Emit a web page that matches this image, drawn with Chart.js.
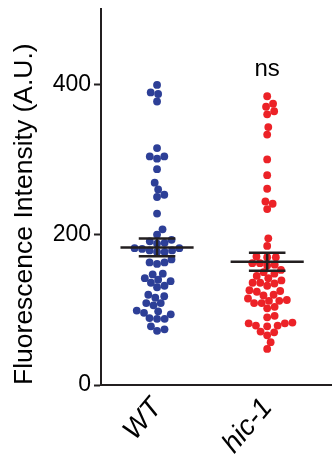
<!DOCTYPE html>
<html>
<head>
<meta charset="utf-8">
<script src="https://cdn.jsdelivr.net/npm/chart.js@4.4.1/dist/chart.umd.min.js"></script>
<style>
  html, body { margin: 0; padding: 0; background: #ffffff; }
  #wrap { width: 335px; height: 462px; }
</style>
</head>
<body>
<div id="wrap"><canvas id="c" width="335" height="462"></canvas></div>
<script>
// ---- data ----
const categories = ['WT', 'hic-1'];
const wtValues = [399, 389, 387, 377, 315, 304, 301, 304, 287, 269, 260, 253, 250, 228, 207,
  200, 193, 191, 189, 188, 182, 179, 177, 177, 179, 181, 182, 163, 161, 163, 167, 148, 147,
  140, 136, 142, 138, 130, 132, 120, 118, 116, 109, 106, 109, 98, 94, 88, 88, 89, 96, 99,
  78, 72, 74];
const hicValues = [384, 374, 370, 360, 364, 343, 333, 300, 279, 261, 244, 241, 234, 195, 185,
  170, 170, 171, 162, 159, 160, 162, 153, 148, 145, 150, 142, 139, 136, 132, 135, 136, 125,
  120, 119, 124, 126, 115, 112, 109, 102, 104, 109, 112, 113, 92, 90, 82, 79, 78, 79, 82,
  83, 70, 66, 71, 57, 48];
const means = [183, 164];
const sems = [11.7, 12];
const yTickValues = [0, 200, 400];
const yMax = 500;
const significance = 'ns';
const significanceAt = 411;

const ink = '#231f20';
const FONT = '"Liberation Sans", Arial, sans-serif';
const groups = [wtValues, hicValues];

const meanPlugin = {
  id: 'meanSem',
  afterDatasetsDraw(chart) {
    const xs = chart.scales.x, ys = chart.scales.y, ctx = chart.ctx;
    ctx.save();
    ctx.strokeStyle = ink;
    ctx.lineWidth = 2.5;
    ctx.lineCap = 'butt';
    means.forEach((m, i) => {
      const c = i + 1;
      const line = (x0, x1, y) => {
        ctx.beginPath();
        ctx.moveTo(xs.getPixelForValue(x0), ys.getPixelForValue(y));
        ctx.lineTo(xs.getPixelForValue(x1), ys.getPixelForValue(y));
        ctx.stroke();
      };
      line(c - 0.332, c + 0.332, m);
      line(c - 0.166, c + 0.166, m + sems[i]);
      line(c - 0.166, c + 0.166, m - sems[i]);
      ctx.beginPath();
      ctx.moveTo(xs.getPixelForValue(c), ys.getPixelForValue(m + sems[i]));
      ctx.lineTo(xs.getPixelForValue(c), ys.getPixelForValue(m - sems[i]));
      ctx.stroke();
    });
    ctx.fillStyle = '#000';
    ctx.font = '24px ' + FONT;
    ctx.textAlign = 'center';
    ctx.textBaseline = 'alphabetic';
    ctx.fillText(significance, xs.getPixelForValue(2), ys.getPixelForValue(significanceAt));
    ctx.restore();
  }
};

const chart = new Chart(document.getElementById('c'), {
  type: 'scatter',
  data: {
    datasets: [
      { label: categories[0], data: wtValues.map(v => ({ x: 1, y: v })),
        backgroundColor: '#2d3f97', borderWidth: 0, pointRadius: 3.9, pointHoverRadius: 3.9 },
      { label: categories[1], data: hicValues.map(v => ({ x: 2, y: v })),
        backgroundColor: '#ec2227', borderWidth: 0, pointRadius: 3.9, pointHoverRadius: 3.9 }
    ]
  },
  options: {
    responsive: false,
    animation: false,
    devicePixelRatio: 1,
    layout: { padding: { top: 9, right: 0, bottom: 0, left: 0 } },
    plugins: { legend: { display: false }, tooltip: { enabled: false } },
    scales: {
      x: {
        type: 'linear',
        min: 0.4911, max: 2.5804,
        afterBuildTicks: s => { s.ticks = categories.map((_, i) => ({ value: i + 1 })); },
        afterFit: s => { s.height = 77; s.paddingLeft = 0; s.paddingRight = 0; },
        grid: { display: false, drawTicks: false },
        border: { display: true, color: ink, width: 2 },
        ticks: {
          autoSkip: false, minRotation: 50, maxRotation: 50, padding: 7,
          color: '#000',
          font: { family: FONT, size: 28, style: 'italic' },
          callback: v => categories[Math.round(v) - 1] || ''
        }
      },
      y: {
        type: 'linear',
        min: 0, max: yMax,
        afterBuildTicks: s => { s.ticks = yTickValues.map(v => ({ value: v })); },
        afterFit: s => { s.width = 101; s.paddingTop = 0; s.paddingBottom = 0; },
        grid: { display: true, drawOnChartArea: false, drawTicks: true, tickLength: 7,
                tickWidth: 2, tickColor: ink },
        border: { display: true, color: ink, width: 2 },
        ticks: { color: '#000', padding: 3, font: { family: FONT, size: 23 } },
        title: { display: true, text: 'Fluorescence Intensity (A.U.)', align: 'start',
                 color: '#000', font: { family: FONT, size: 26.5 }, padding: { top: 9, bottom: 0 } }
      }
    }
  },
  plugins: [meanPlugin]
});

// beeswarm layout computed through the chart's scales
(function swarm() {
  const xs = chart.scales.x, ys = chart.scales.y;
  const ppu = Math.abs(xs.getPixelForValue(2) - xs.getPixelForValue(1));
  const D = 7.6;
  chart.data.datasets.forEach((ds, i) => {
    const center = i + 1;
    const pts = groups[i].map(v => ({ v, py: ys.getPixelForValue(v), dx: 0 }));
    const order = pts.slice().sort((a, b) => a.v - b.v);
    const placed = [];
    for (const p of order) {
      const cands = [0];
      for (const q of placed) {
        const dy = p.py - q.py;
        if (Math.abs(dy) < D) {
          const dx = Math.sqrt(D * D - dy * dy);
          cands.push(q.dx + dx, q.dx - dx);
        }
      }
      cands.sort((a, b) => Math.abs(a) - Math.abs(b));
      for (const c of cands) {
        if (placed.every(q => (c - q.dx) ** 2 + (p.py - q.py) ** 2 >= D * D - 0.01)) { p.dx = c; break; }
      }
      placed.push(p);
    }
    ds.data = pts.map(p => ({ x: center + p.dx / ppu, y: p.v }));
  });
  chart.update('none');
})();
</script>
</body>
</html>
